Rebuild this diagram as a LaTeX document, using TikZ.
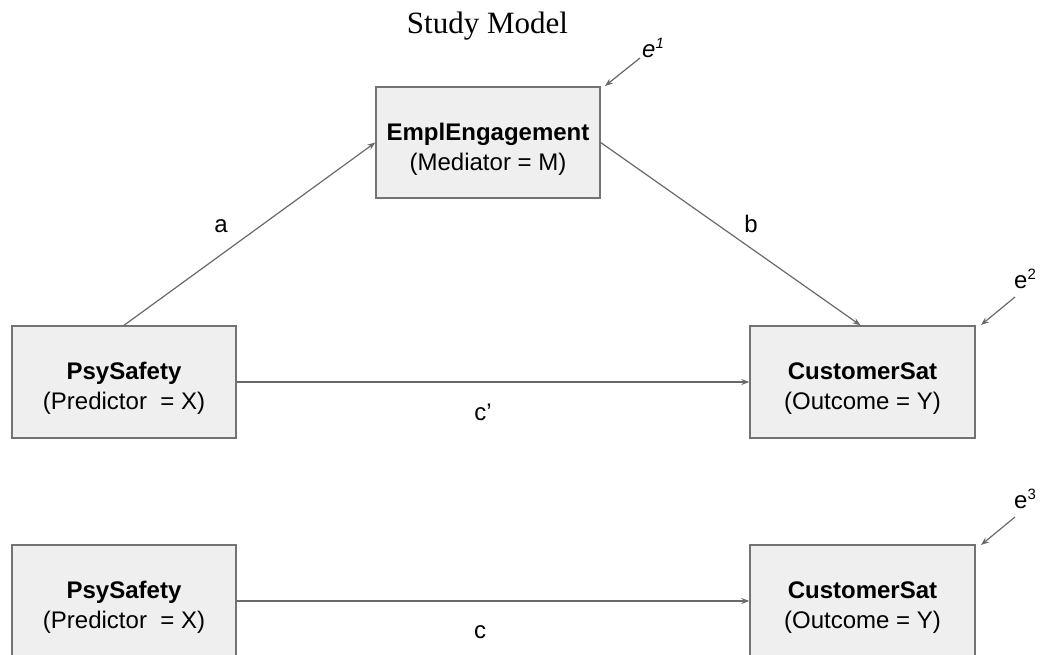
\documentclass[tikz,border=0pt]{standalone}
\usepackage{fontspec}
\setmainfont{Liberation Sans}
\newfontfamily\titlefont{Liberation Serif}
\usetikzlibrary{arrows.meta}
\definecolor{boxfill}{RGB}{239,239,239}
\definecolor{boxline}{RGB}{115,115,115}
\definecolor{arrline}{RGB}{105,105,105}
\tikzset{
  x=1pt, y=-1pt,
  varbox/.style={draw=boxline, line width=1.4pt, fill=boxfill, minimum width=224pt, minimum height=111pt,
    inner sep=0pt, align=center, font=\fontsize{24}{30}\selectfont, text=black},
  path/.style={draw=arrline, line width=1.2pt, -{Stealth[length=8pt,width=6pt]}},
  lab/.style={font=\fontsize{24}{28}\selectfont, anchor=base, inner sep=0pt},
  elab/.style={font=\fontsize{24}{28}\selectfont, anchor=base west, inner sep=0pt},
}
\newcommand{\supnum}[1]{\raisebox{9pt}{\fontsize{15}{15}\selectfont #1}}
\newcommand{\topstrut}{\rule{0pt}{30pt}}
\begin{document}
\begin{tikzpicture}
\useasboundingbox (0,0) rectangle (1042,654);
\clip (0,0) rectangle (1042,654);
\node[anchor=base, font=\titlefont\fontsize{31}{36}\selectfont, inner sep=0pt] (title) at (487.5,33) {Study Model};
\node[varbox] (em) at (488,142.5) {\topstrut\textbf{EmplEngagement}\\(Mediator = M)};
\node[varbox, minimum height=112pt] (ps1) at (124,382) {\topstrut\textbf{PsySafety}\\(Predictor\ \ = X)};
\node[varbox, minimum width=225pt, minimum height=112pt] (cs1) at (862.5,382) {\topstrut\textbf{CustomerSat}\\(Outcome = Y)};
\node[varbox, minimum height=112pt] (ps2) at (124,601) {\topstrut\textbf{PsySafety}\\(Predictor\ \ = X)};
\node[varbox, minimum width=225pt, minimum height=112pt] (cs2) at (862.5,601) {\topstrut\textbf{CustomerSat}\\(Outcome = Y)};
\draw[path] (ps1.north) -- (em.west);
\draw[path] (em.east) -- ([xshift=-2pt]cs1.north);
\draw[path] (ps1.east) -- (cs1.west);
\draw[path] (ps2.east) -- (cs2.west);
\node[lab] (la) at (221,232) {a};
\node[lab] (lb) at (751,232) {b};
\node[lab] (lcp) at (483,420) {c’};
\node[lab] (lc) at (480,638) {c};
\node[elab] (e1) at (642,57) {\textit{e\supnum{1}}};
\node[elab] (e2) at (1014,288) {e\supnum{2}};
\node[elab] (e3) at (1014,508) {e\supnum{3}};
\coordinate (e1s) at (640,58);
\coordinate (e1t) at (605,86);
\coordinate (e2s) at (1015,297);
\coordinate (e2t) at (981,325);
\coordinate (e3s) at (1015,517);
\coordinate (e3t) at (981,545);
\draw[path] (e1s) -- (e1t);
\draw[path] (e2s) -- (e2t);
\draw[path] (e3s) -- (e3t);
\end{tikzpicture}
\end{document}
